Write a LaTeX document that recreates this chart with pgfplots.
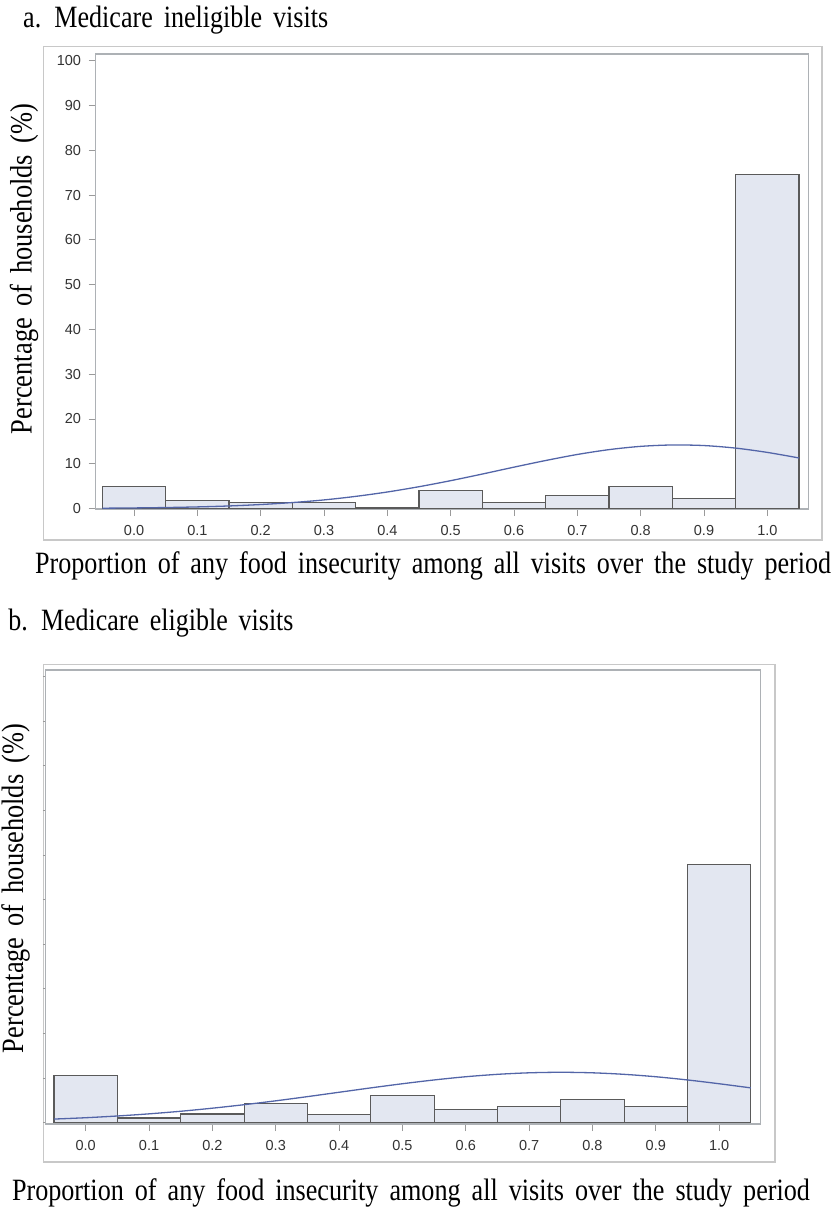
\documentclass[border=0pt]{standalone}
\usepackage{pgfplots}
\pgfplotsset{compat=1.18}
\usepackage{graphicx}
\usepackage{fontspec}
\setmainfont{Liberation Serif}
\setsansfont{Liberation Sans}

\definecolor{barfill}{HTML}{E3E7F1}
\definecolor{baredge}{HTML}{5A5A5A}
\definecolor{curvecol}{HTML}{5365A8}
\definecolor{framein}{HTML}{ADB1B5}
\definecolor{frameout}{HTML}{C8C8C8}
\definecolor{ticktext}{HTML}{333333}
\definecolor{tickcol}{HTML}{9A9A9A}

\newcommand{\fitw}[2]{\resizebox{#1}{\height}{\fontsize{31}{36}\selectfont\spaceskip=0.42em plus 0.1em\relax #2}}

\pgfplotsset{
  hist/.style={
    scale only axis,
    axis line style={framein, line width=1.5pt},
    tick style={color=tickcol, line width=0.9pt},
    tick align=outside,
    major tick length=7pt,
    xtick={0,0.1,0.2,0.3,0.4,0.5,0.6,0.7,0.8,0.9,1.0},
    xticklabels={0.0,0.1,0.2,0.3,0.4,0.5,0.6,0.7,0.8,0.9,1.0},
    xticklabel style={font=\fontsize{14.5}{17}\sffamily\selectfont, text=ticktext, inner sep=0pt, yshift=-9pt},
    yticklabel style={font=\fontsize{14.5}{17}\sffamily\selectfont, text=ticktext, inner sep=0pt, xshift=-7.5pt},
    /pgf/number format/assume math mode=true,
    ytick={0,10,20,30,40,50,60,70,80,90,100},
    tick pos=left,
    clip=true,
  }
}

\begin{document}
\begin{tikzpicture}[x=1pt,y=1pt]
\useasboundingbox (0,0) rectangle (834,-1211);

% ---------- panel a ----------
\draw[frameout, line width=1.2pt] (43.3,-46.7) rectangle (822,-540);
\begin{axis}[hist,
  at={(95.7pt,-509pt)}, anchor=south west,
  width=712.6pt, height=455pt,
  xmin=-0.0605, xmax=1.0647, ymin=-0.11, ymax=101.5,
]
\addplot[ybar interval, fill=barfill, draw=baredge, line width=1.1pt] coordinates {
(-0.05,5.0) (0.05,1.7) (0.15,1.3) (0.25,1.3) (0.35,0.3) (0.45,4.1)
(0.55,1.3) (0.65,3.0) (0.75,5.0) (0.85,2.3) (0.95,74.5) (1.05,74.5)};
\addplot[curvecol, line width=1.3pt, smooth, no marks] coordinates {
(-0.05,0.07) (0.0,0.13) (0.05,0.22) (0.1,0.36) (0.15,0.57) (0.2,0.89)
(0.25,1.33) (0.3,1.92) (0.35,2.71) (0.4,3.69) (0.45,4.87) (0.5,6.22)
(0.55,7.70) (0.6,9.24) (0.65,10.72) (0.7,12.07) (0.75,13.15) (0.8,13.88)
(0.85,14.19) (0.9,14.06) (0.95,13.49) (1.0,12.53) (1.05,11.29)};
\end{axis}

\node[anchor=base west, inner sep=0] at (23,-27) {\fitw{305pt}{a. Medicare ineligible visits}};
\node[rotate=90, inner sep=0] at (24,-269) {\fitw{330pt}{Percentage of households (\%)}};
\node[anchor=base west, inner sep=0] at (35,-573.3) {\fitw{796pt}{Proportion of any food insecurity among all visits over the study period}};

% ---------- panel b ----------
\draw[frameout, line width=1.2pt] (43.3,-664.3) rectangle (775,-1162);
\begin{axis}[hist,
  at={(45.3pt,-1124pt)}, anchor=south west,
  width=715pt, height=454pt,
  xmin=-0.0638, xmax=1.065, ymin=-0.3, ymax=101.5,
  ytick=\empty,
  extra y ticks={0,10,20,30,40,50,60,70,80,90,100},
  extra y tick labels={},
  extra y tick style={major tick length=2.5pt},
]
\addplot[ybar interval, fill=barfill, draw=baredge, line width=1.1pt] coordinates {
(-0.05,10.5) (0.05,1.05) (0.15,1.95) (0.25,4.2) (0.35,1.9) (0.45,6.05)
(0.55,3.0) (0.65,3.7) (0.75,5.2) (0.85,3.7) (0.95,57.8) (1.05,57.8)};
\addplot[curvecol, line width=1.3pt, smooth, no marks] coordinates {
(-0.05,0.81) (0.0,1.11) (0.05,1.50) (0.1,1.98) (0.15,2.56) (0.2,3.25)
(0.25,4.03) (0.3,4.90) (0.35,5.84) (0.4,6.82) (0.45,7.80) (0.5,8.73)
(0.55,9.58) (0.6,10.30) (0.65,10.84) (0.7,11.18) (0.75,11.30) (0.8,11.18)
(0.85,10.84) (0.9,10.30) (0.95,9.58) (1.0,8.73) (1.05,7.80)};
\end{axis}

\node[anchor=base west, inner sep=0] at (8.3,-630) {\fitw{285pt}{b. Medicare eligible visits}};
\node[rotate=90, inner sep=0] at (15.5,-888.5) {\fitw{329pt}{Percentage of households (\%)}};
\node[anchor=base west, inner sep=0] at (11.8,-1200) {\fitw{798pt}{Proportion of any food insecurity among all visits over the study period}};
\end{tikzpicture}
\end{document}
